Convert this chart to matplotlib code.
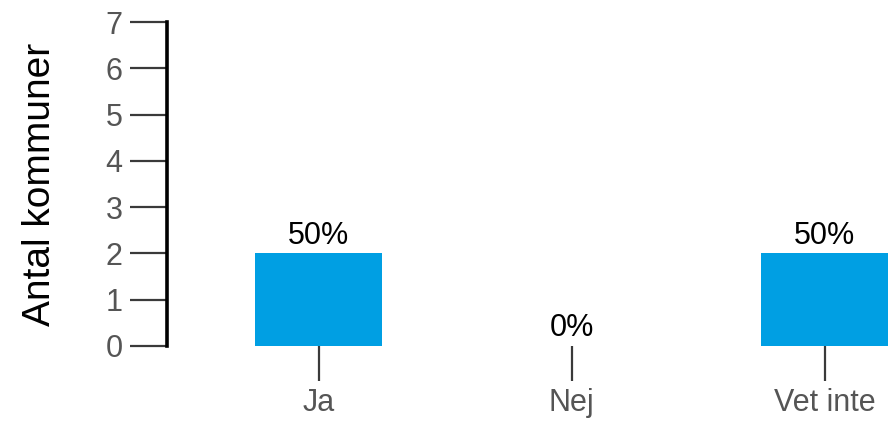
import matplotlib
matplotlib.use("Agg")
import matplotlib.pyplot as plt

categories = ["Ja", "Nej", "Vet inte"]
counts = [2, 0, 2]
percents = ["50%", "0%", "50%"]
y_ticks = [0, 1, 2, 3, 4, 5, 6, 7]

plt.rcParams['font.family'] = ['Liberation Sans', 'DejaVu Sans']

fig = plt.figure(figsize=(8.88, 4.25), dpi=100)
ax = fig.add_axes([0.188, 0.186, 0.812, 0.762])

x = list(range(len(categories)))
bars = ax.bar(x, counts, width=0.5, color='#009FE3')

for b, p in zip(bars, percents):
    ax.annotate(p, (b.get_x() + b.get_width() / 2, b.get_height()),
                xytext=(0, 2), textcoords='offset points',
                ha='center', va='bottom', fontsize=22, color='black')

ax.set_xlim(-0.6, 2.25)
ax.set_ylim(0, 7)
ax.set_xticks(x)
ax.set_xticklabels(categories)
ax.set_yticks(y_ticks)

ax.spines['top'].set_visible(False)
ax.spines['right'].set_visible(False)
ax.spines['bottom'].set_visible(False)
ax.spines['left'].set_linewidth(2.6)
ax.spines['left'].set_color('black')

ax.tick_params(axis='y', length=27, width=1.6, color='#3a3a3a',
               labelsize=22, labelcolor='#555555', pad=5)
ax.tick_params(axis='x', length=25, width=1.6, color='#3a3a3a',
               labelsize=22, labelcolor='#555555', pad=5)

ax.set_ylabel("Antal kommuner", fontsize=28, color='black', labelpad=34)

fig.savefig("out.png", dpi=100)
